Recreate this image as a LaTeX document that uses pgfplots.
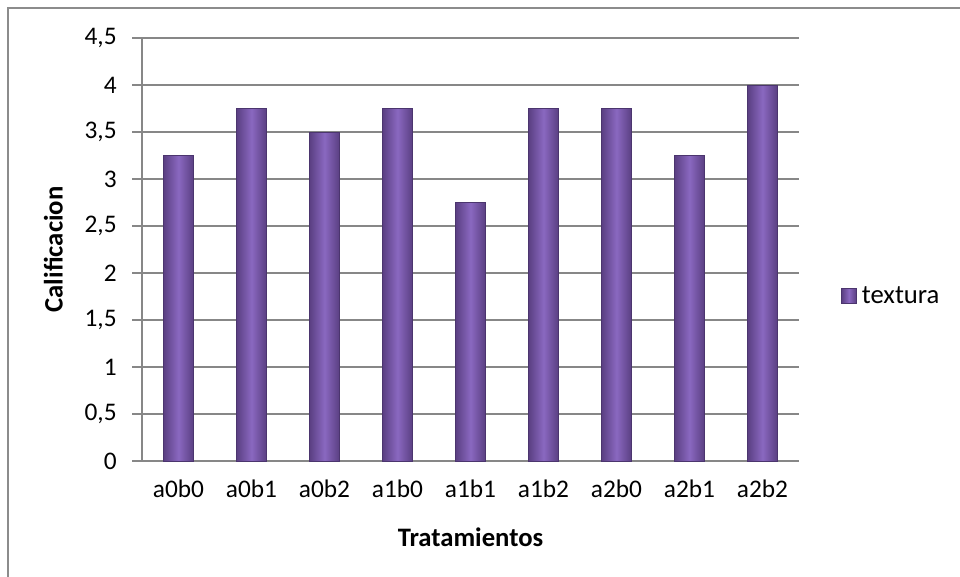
\documentclass[border=0pt]{standalone}
\usepackage{pgfplots}
\pgfplotsset{compat=1.18}
\usepackage{fontspec}
\setmainfont{Carlito}

\definecolor{gridgray}{HTML}{878787}
\definecolor{framegray}{HTML}{8C8C8C}
\definecolor{bardark}{HTML}{5A3F82}
\definecolor{barmid}{HTML}{8A68C0}
\definecolor{baredge}{HTML}{4B356E}

\pgfplotsset{
  barra/.style={draw=baredge, left color=bardark, right color=bardark, middle color=barmid, bar shift=0pt},
}

\begin{document}
\begin{tikzpicture}
% page = 960 x 577 px at 0.75pt per px
\path[use as bounding box] (0,0) rectangle (720pt,-432.75pt);
\draw[framegray, line width=1.1pt] (6pt,-6pt) rectangle (740pt,-445pt);
\begin{axis}[
    at={(106.5pt,-345.75pt)}, anchor=south west,
    scale only axis,
    width=492.75pt, height=317.25pt,
    font=\fontsize{19}{22}\selectfont,
    ybar, bar width=22.5pt,
    xmin=-0.5, xmax=8.5,
    ymin=0, ymax=4.5,
    xtick={0,...,8},
    xticklabels={a0b0,a0b1,a0b2,a1b0,a1b1,a1b2,a2b0,a2b1,a2b2},
    ytick={0,0.5,...,4.5},
    /pgf/number format/use comma,
    /pgf/number format/assume math mode=true,
    yticklabel style={/pgf/number format/fixed, xshift=-8pt},
    xticklabel style={yshift=-3pt},
    axis x line*=bottom, axis y line*=left,
    axis line style={gridgray, line width=1.1pt, -},
    tick align=outside, major tick length=7.5pt,
    ytick style={gridgray, line width=1.1pt},
    xtick style={draw=none},
    ymajorgrids, grid style={gridgray, line width=1.1pt},
    xlabel={Tratamientos},
    ylabel={Calificacion},
    every axis x label/.style={at={(axis description cs:0.5,-0.18)}, anchor=center,
        font=\fontsize{20}{24}\selectfont\bfseries},
    every axis y label/.style={at={(axis description cs:-0.135,0.5)}, anchor=center, rotate=90,
        font=\fontsize{20}{24}\selectfont\bfseries},
    legend style={at={(axis description cs:1.058,0.39)}, anchor=west, draw=none, fill=none,
        font=\fontsize{20}{24}\selectfont},
    legend image code/.code={\fill[left color=bardark, right color=bardark, middle color=barmid, draw=baredge] (0pt,-5.5pt) rectangle (11pt,5.5pt); \path (13pt,0pt);},
]
\addplot[barra] coordinates {(0,3.25)};
\addlegendentry{textura}
\addplot[barra, forget plot] coordinates {(1,3.75)};
\addplot[barra, forget plot] coordinates {(2,3.5)};
\addplot[barra, forget plot] coordinates {(3,3.75)};
\addplot[barra, forget plot] coordinates {(4,2.75)};
\addplot[barra, forget plot] coordinates {(5,3.75)};
\addplot[barra, forget plot] coordinates {(6,3.75)};
\addplot[barra, forget plot] coordinates {(7,3.25)};
\addplot[barra, forget plot] coordinates {(8,4)};
\end{axis}
\end{tikzpicture}
\end{document}
